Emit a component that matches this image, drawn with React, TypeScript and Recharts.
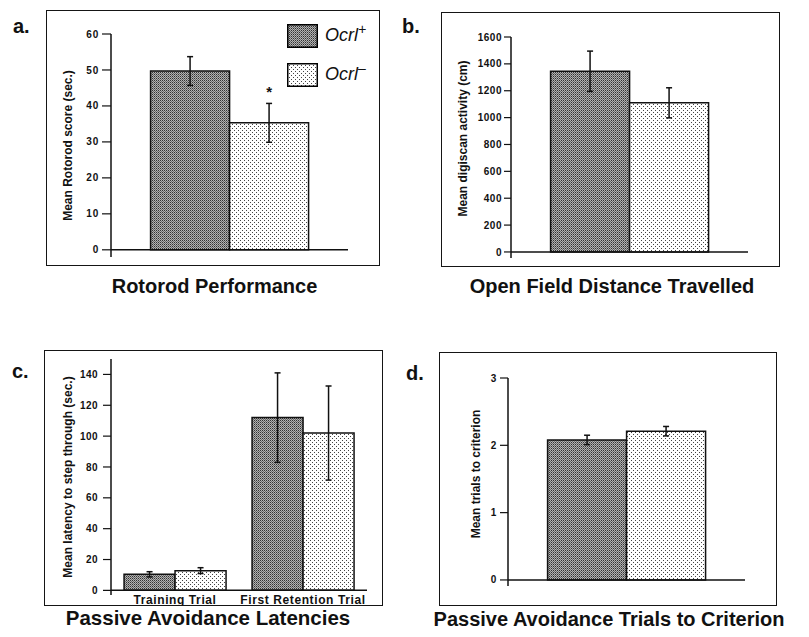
import React from 'react';
import { BarChart, Bar, XAxis, YAxis, ErrorBar, ReferenceLine, Legend, LabelList } from 'recharts';

const FONT = '"Liberation Sans", Arial, Helvetica, sans-serif';

// Genotype groups (series)
const genotypes = ['Ocrl+', 'Ocrl-'];

// a. Rotorod Performance
const rotorodMeans = [49.7, 35.3];
const rotorodErrors = [4.0, 5.4];
const rotorodSignificance = ['', '*'];
const rotorodTicks = [0, 10, 20, 30, 40, 50, 60];

// b. Open Field Distance Travelled
const openFieldMeans = [1345, 1110];
const openFieldErrors = [150, 112];
const openFieldTicks = [0, 200, 400, 600, 800, 1000, 1200, 1400, 1600];

// c. Passive Avoidance Latencies
const trialNames = ['Training Trial', 'First Retention Trial'];
const latencyPlusMeans = [10.4, 112];
const latencyPlusErrors = [1.7, 29];
const latencyMinusMeans = [12.8, 102];
const latencyMinusErrors = [1.9, 30.5];
const latencyTicks = [0, 20, 40, 60, 80, 100, 120, 140];

// d. Passive Avoidance Trials to Criterion
const criterionMeans = [2.08, 2.21];
const criterionErrors = [0.07, 0.07];
const criterionTicks = [0, 1, 2, 3];

const singleRow = (means: number[], errors: number[], sig?: string[]) => [
  {
    group: '',
    plus: means[0],
    plusErr: errors[0],
    minus: means[1],
    minusErr: errors[1],
    minusSig: sig ? sig[1] : '',
  },
];

const rotorodData = singleRow(rotorodMeans, rotorodErrors, rotorodSignificance);
const openFieldData = singleRow(openFieldMeans, openFieldErrors);
const criterionData = singleRow(criterionMeans, criterionErrors);
const latencyData = trialNames.map((name, i) => ({
  group: name,
  plus: latencyPlusMeans[i],
  plusErr: latencyPlusErrors[i],
  minus: latencyMinusMeans[i],
  minusErr: latencyMinusErrors[i],
  minusSig: '',
}));

const DARK = 'url(#patDark)';
const LIGHT = 'url(#patLight)';

const Patterns = () => (
  <svg width="0" height="0" style={{ position: 'absolute', left: 0, top: 0 }}>
    <defs>
      <pattern id="patDark" patternUnits="userSpaceOnUse" width="2" height="2">
        <rect x="0" y="0" width="2" height="2" fill="#b2b2b2" />
        <rect x="0" y="0" width="1" height="1" fill="#333333" shapeRendering="crispEdges" />
        <rect x="1" y="1" width="1" height="1" fill="#6a6a6a" shapeRendering="crispEdges" />
      </pattern>
      <pattern id="patLight" patternUnits="userSpaceOnUse" width="4" height="4">
        <rect x="0" y="0" width="4" height="4" fill="#ffffff" />
        <rect x="0" y="0" width="1" height="1" fill="#444" shapeRendering="crispEdges" />
        <rect x="2" y="2" width="1" height="1" fill="#444" shapeRendering="crispEdges" />
      </pattern>
    </defs>
  </svg>
);

const GenoName = ({ name }: { name: string }) => (
  <span>
    {name.slice(0, -1)}
    <sup style={{ fontSize: 14, verticalAlign: 'super', lineHeight: 0 }}>
      {name.slice(-1) === '-' ? '\u2013' : name.slice(-1)}
    </sup>
  </span>
);

const LegendContent = (props: any) => {
  const payload = props.payload || [];
  return (
    <div style={{ fontFamily: FONT }}>
      {payload.map((entry: any, i: number) => (
        <div
          key={i}
          style={{ display: 'flex', alignItems: 'center', height: 23, marginBottom: 16 }}
        >
          <svg width={31} height={24} style={{ display: 'block' }}>
            <rect x={0.75} y={0.75} width={29.5} height={22.5} fill={entry.color} stroke="#000" strokeWidth={1.5} />
          </svg>
          <span style={{ marginLeft: 7, fontSize: 18, fontStyle: 'italic', color: '#111', lineHeight: '23px' }}>
            <GenoName name={String(entry.value)} />
          </span>
        </div>
      ))}
    </div>
  );
};

const StarLabel = (props: any) => {
  const { x, y, width, value } = props;
  if (!value) return null;
  return (
    <text x={x + width / 2} y={y - 26} textAnchor="middle" fontSize={15} fontWeight="bold" fontFamily={FONT} fill="#111">
      {value}
    </text>
  );
};

type PanelProps = {
  data: any[];
  width: number;
  height: number;
  margin: { top: number; right: number; bottom: number; left: number };
  yAxisWidth: number;
  domain: [number, number];
  ticks: number[];
  tickSize: number;
  tickMargin: number;
  tickFont: { fontSize: number; letterSpacing: number };
  yLabel: string;
  labelDx: number;
  labelDy: number;
  categoryGap: string;
  showCategories?: boolean;
  showLegend?: boolean;
  errWidth: number;
};

const Panel = (p: PanelProps) => (
  <BarChart
    width={p.width}
    height={p.height}
    data={p.data}
    margin={p.margin}
    barCategoryGap={p.categoryGap}
    barGap={0}
  >
    <XAxis
      dataKey="group"
      hide={!p.showCategories}
      axisLine={false}
      tickLine={false}
      tickSize={0}
      tickMargin={0}
      height={p.showCategories ? 11 : 0}
      interval={0}
      tick={{ fontSize: 12, fontWeight: 'bold', fill: '#111', fontFamily: FONT, letterSpacing: 0.6 }}
    />
    <YAxis
      type="number"
      width={p.yAxisWidth}
      domain={p.domain}
      allowDataOverflow
      ticks={p.ticks}
      interval={0}
      tickSize={p.tickSize}
      tickMargin={p.tickMargin}
      axisLine={{ stroke: '#111', strokeWidth: 1.5 }}
      tickLine={{ stroke: '#111', strokeWidth: 1.2 }}
      tick={{
        fontSize: p.tickFont.fontSize,
        fontWeight: 'bold',
        fill: '#111',
        fontFamily: FONT,
        letterSpacing: p.tickFont.letterSpacing,
      }}
      label={{
        value: p.yLabel,
        angle: -90,
        position: 'center',
        dx: p.labelDx,
        dy: p.labelDy,
        style: { fontSize: 12, fontWeight: 'bold', fill: '#111', fontFamily: FONT, textAnchor: 'middle' },
      }}
    />
    <ReferenceLine y={0} stroke="#111" strokeWidth={1.5} ifOverflow="visible" />
    <Bar dataKey="plus" name={genotypes[0]} fill={DARK} stroke="#111" strokeWidth={1.5} isAnimationActive={false}>
      <ErrorBar dataKey="plusErr" width={p.errWidth} stroke="#111" strokeWidth={1.5} direction="y" />
    </Bar>
    <Bar dataKey="minus" name={genotypes[1]} fill={LIGHT} stroke="#111" strokeWidth={1.5} isAnimationActive={false}>
      <ErrorBar dataKey="minusErr" width={p.errWidth} stroke="#111" strokeWidth={1.5} direction="y" />
      <LabelList dataKey="minusSig" content={StarLabel} />
    </Bar>
    {p.showLegend && (
      <Legend
        layout="horizontal"
        align="center"
        verticalAlign="middle"
        content={LegendContent}
        wrapperStyle={{ left: 241, top: 14, width: 100, height: 80 }}
      />
    )}
  </BarChart>
);

const frame = (left: number, top: number, width: number, height: number) => (
  <div
    style={{
      position: 'absolute',
      left,
      top,
      width,
      height,
      boxSizing: 'border-box',
      border: '1.5px solid #151515',
      pointerEvents: 'none',
    }}
  />
);

const textBox = (text: string, left: number, top: number, size: number, width?: number) => (
  <div
    style={{
      position: 'absolute',
      left,
      top,
      width: width ?? 'auto',
      textAlign: width ? 'center' : 'left',
      fontFamily: FONT,
      fontWeight: 'bold',
      fontSize: size,
      lineHeight: `${size}px`,
      color: '#111',
      whiteSpace: 'nowrap',
    }}
  >
    {text}
  </div>
);

const place = (left: number, top: number, child: React.ReactNode) => (
  <div style={{ position: 'absolute', left, top }}>{child}</div>
);

export default function App() {
  return (
    <div
      style={{
        position: 'absolute',
        left: 0,
        top: 0,
        width: 809,
        height: 637,
        background: '#fff',
        overflow: 'hidden',
        fontFamily: FONT,
      }}
    >
      <Patterns />

      {/* a. */}
      {place(
        46,
        10,
        <Panel
          data={rotorodData}
          width={334}
          height={256}
          margin={{ top: 24, right: 32, bottom: 9, left: 0 }}
          yAxisWidth={65}
          domain={[-2, 60]}
          ticks={rotorodTicks}
          tickSize={9}
          tickMargin={3}
          tickFont={{ fontSize: 10, letterSpacing: 0.8 }}
          yLabel="Mean Rotorod score (sec.)"
          labelDx={-10.5}
          labelDy={0}
          categoryGap="16.7%"
          showLegend
          errWidth={3}
        />
      )}
      {frame(46, 10, 334, 256)}
      {textBox('a.', 13, 16, 20)}
      {textBox('Rotorod Performance', 14.5, 276, 20, 400)}

      {/* b. */}
      {place(
        441,
        12,
        <Panel
          data={openFieldData}
          width={339}
          height={255}
          margin={{ top: 25, right: 32, bottom: 9, left: 0 }}
          yAxisWidth={70}
          domain={[-45, 1600]}
          ticks={openFieldTicks}
          tickSize={7}
          tickMargin={2}
          tickFont={{ fontSize: 10, letterSpacing: 0.5 }}
          yLabel="Mean digiscan activity (cm)"
          labelDx={-13}
          labelDy={-9}
          categoryGap="16.7%"
          errWidth={3}
        />
      )}
      {frame(441, 12, 339, 255)}
      {textBox('b.', 402, 16, 20)}
      {textBox('Open Field Distance Travelled', 412, 276, 20, 400)}

      {/* c. */}
      {place(
        44,
        350,
        <Panel
          data={latencyData}
          width={339}
          height={256}
          margin={{ top: 9, right: 16, bottom: 0, left: 0 }}
          yAxisWidth={67}
          domain={[-3, 150]}
          ticks={latencyTicks}
          tickSize={8}
          tickMargin={5}
          tickFont={{ fontSize: 10, letterSpacing: 0.4 }}
          yLabel="Mean latency to step through (sec.)"
          labelDx={-9.5}
          labelDy={0}
          categoryGap="10.2%"
          showCategories
          errWidth={3}
        />
      )}
      {frame(44, 350, 339, 256)}
      {textBox('c.', 12, 361, 20)}
      {textBox('Passive Avoidance Latencies', 8, 608, 20.5, 400)}

      {/* d. */}
      {place(
        439,
        352,
        <Panel
          data={criterionData}
          width={338}
          height={254}
          margin={{ top: 26, right: 32, bottom: 20, left: 0 }}
          yAxisWidth={69}
          domain={[-0.09, 3]}
          ticks={criterionTicks}
          tickSize={8}
          tickMargin={3}
          tickFont={{ fontSize: 10, letterSpacing: 0.8 }}
          yLabel="Mean trials to criterion"
          labelDx={2.5}
          labelDy={-8}
          categoryGap="16.7%"
          errWidth={3}
        />
      )}
      {frame(439, 352, 338, 254)}
      {textBox('d.', 406, 363, 20)}
      {textBox('Passive Avoidance Trials to Criterion', 409, 609, 20, 400)}
    </div>
  );
}
